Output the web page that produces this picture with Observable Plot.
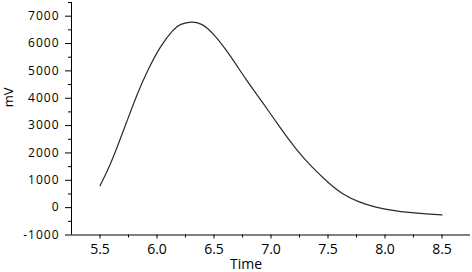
<!DOCTYPE html>
<html>
<head>
<meta charset="utf-8">
<script src="https://cdn.jsdelivr.net/npm/d3@7"></script>
<script src="https://cdn.jsdelivr.net/npm/@observablehq/plot@0.6"></script>
<style>
  html, body { margin: 0; padding: 0; background: #fff; }
  #chart svg { display: block; }
</style>
</head>
<body>
<div id="chart"></div>
<script>
// Data
const time = [5.50, 5.57, 5.65, 5.74, 5.83, 5.92, 6.03, 6.14, 6.21, 6.30, 6.39, 6.49, 6.63, 6.78, 6.93, 7.07, 7.22, 7.36, 7.50, 7.63, 7.78, 7.92, 8.07, 8.21, 8.36, 8.50];
const mv   = [800, 1400, 2210, 3200, 4170, 5020, 5870, 6480, 6700, 6780, 6700, 6360, 5620, 4700, 3820, 2990, 2150, 1490, 930, 510, 200, 20, -100, -175, -225, -265];

const xTicks = [5.5, 6.0, 6.5, 7.0, 7.5, 8.0, 8.5];
const xMinorTicks = [5.75, 6.25, 6.75, 7.25, 7.75, 8.25];
const yTicks = [-1000, 0, 1000, 2000, 3000, 4000, 5000, 6000, 7000];
const yMinorTicks = [-500, 500, 1500, 2500, 3500, 4500, 5500, 6500, 7500];
const xLabel = "Time";
const yLabel = "mV";

const data = time.map((t, i) => ({t, v: mv[i]}));

const chart = Plot.plot({
  width: 472,
  height: 272,
  marginLeft: 71,
  marginRight: 2,
  marginTop: 2,
  marginBottom: 37.5,
  style: {fontFamily: "'Open Sans', sans-serif", fontSize: "12px", color: "#000", background: "#fff"},
  x: {domain: [5.25, 8.75], axis: null},
  y: {domain: [-1000, 7500], axis: null},
  marks: [
    Plot.axisX({ticks: xMinorTicks, tickSize: 3, tickFormat: () => "", label: null}),
    Plot.axisX({ticks: xTicks, tickSize: 4, tickPadding: 5, tickFormat: d3.format(".1f"), fontSize: 14, label: null}),
    Plot.axisY({ticks: yMinorTicks, tickSize: 3, tickFormat: () => "", label: null}),
    Plot.axisY({ticks: yTicks, tickSize: 6, tickPadding: 6, tickFormat: d => String(d), fontSize: 12, label: null}),
    Plot.ruleX([5.25], {stroke: "#000", strokeWidth: 1}),
    Plot.ruleY([-1000], {stroke: "#000", strokeWidth: 1}),
    Plot.line(data, {x: "t", y: "v", curve: "natural", stroke: "#2a2a2a", strokeWidth: 1.2}),
    Plot.text([xLabel], {frameAnchor: "bottom", dx: -25, dy: 33.5, lineAnchor: "bottom", fontSize: 14, fill: "#000"}),
    Plot.text([yLabel], {frameAnchor: "left", rotate: -90, dx: -62.7, dy: -11.5, fontSize: 13, fill: "#000"})
  ]
});

document.getElementById("chart").appendChild(chart);
d3.select(chart).selectAll("g[aria-label='y-axis tick label'] text").style("letter-spacing", "1px");
</script>
</body>
</html>
